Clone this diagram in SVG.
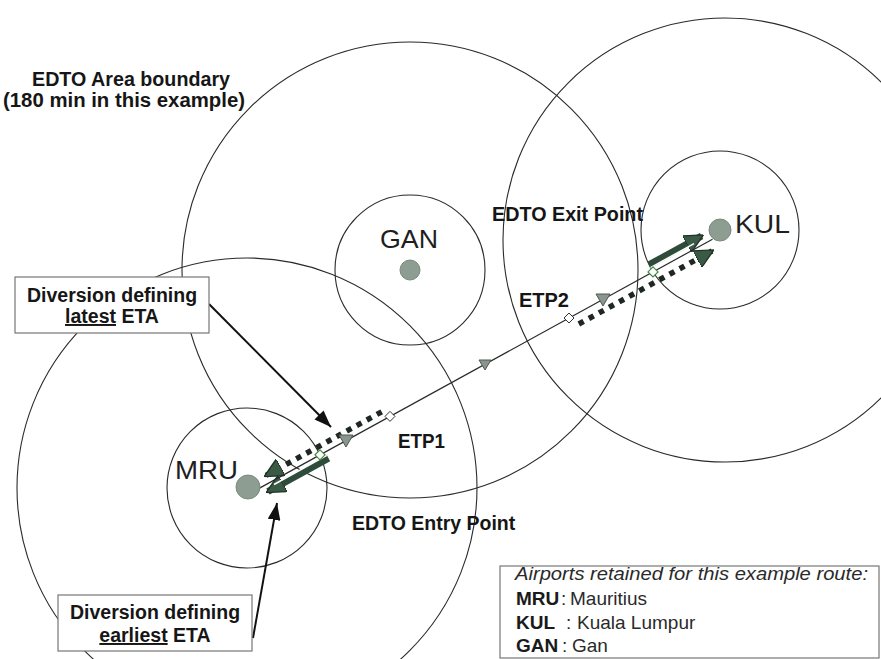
<svg xmlns="http://www.w3.org/2000/svg" width="881" height="659" viewBox="0 0 881 659">
<defs>
<style>
.circ{fill:none;stroke:#2a2a2a;stroke-width:1.1}
.lbl{font-family:"Liberation Sans",Arial,sans-serif;font-weight:bold;font-size:19.5px;fill:#161616}
.apt{font-family:"Liberation Sans",Arial,sans-serif;font-size:26px;fill:#1e1e1e}
.leg{font-family:"Liberation Sans",Arial,sans-serif;font-size:19px;fill:#2a2a2a}
.legb{font-family:"Liberation Sans",Arial,sans-serif;font-size:19px;font-weight:bold;fill:#1a1a1a}
.box{fill:#fff;stroke:#777;stroke-width:1.2}
.dot{fill:#8d9d91;stroke:#7a8a7e;stroke-width:1}
.dia{fill:#fff;stroke:#333;stroke-width:1}
.diag{fill:#fff;stroke:#3f8a45;stroke-width:1.2}
.tri{fill:#8a9590;stroke:#4d5a52;stroke-width:1}
.dotted{fill:none;stroke:#1f2722;stroke-width:5.5;stroke-dasharray:5.5 6}
.solid{fill:none;stroke:#2f4b3a;stroke-width:7}
.shine{fill:none;stroke:#fff;stroke-width:1.5}
.callout{fill:none;stroke:#111;stroke-width:2}
</style>
<marker id="headG" viewBox="0 0 18 18" refX="16" refY="9" markerWidth="19" markerHeight="19" markerUnits="userSpaceOnUse" orient="auto">
<path d="M0,0 L18,9 L0,18 Z" fill="#3a5a46" stroke="#1e3326" stroke-width="1.2"/>
</marker>
<marker id="headK" viewBox="0 0 16 12" refX="16" refY="6" markerWidth="17" markerHeight="13" markerUnits="userSpaceOnUse" orient="auto">
<path d="M0,0 L16,6 L0,12 Z" fill="#111"/>
</marker>
</defs>
<rect width="881" height="659" fill="#fff"/>

<g id="boundaries">
<circle class="circ" cx="410" cy="270" r="228"/>
<circle class="circ" cx="725" cy="240" r="222"/>
<circle class="circ" cx="247" cy="488" r="230"/>
<circle class="circ" cx="410" cy="270" r="75"/>
<circle class="circ" cx="720" cy="230" r="79"/>
<circle class="circ" cx="247" cy="488" r="80"/>
</g>

<g id="connectors">
<line class="dotted" x1="381.7" y1="411.8" x2="266" y2="475.5" marker-end="url(#headG)"/>
<line class="solid" x1="328.5" y1="458.1" x2="268" y2="491.5" marker-end="url(#headG)"/>
<line class="shine" x1="326.8" y1="455.4" x2="274" y2="484.5"/>
<line class="solid" x1="649" y1="264.9" x2="701.6" y2="236" marker-end="url(#headG)"/>
<line class="shine" x1="650.5" y1="267.6" x2="694" y2="243.6"/>
<line class="dotted" x1="578.8" y1="324" x2="712" y2="251" marker-end="url(#headG)"/>
<line id="route" x1="256.8" y1="489.6" x2="712.5" y2="239.2" stroke="#2a2a2a" stroke-width="1.2"/>
<line class="callout" x1="209" y1="304" x2="331" y2="427" marker-end="url(#headK)"/>
<line class="callout" x1="253" y1="638" x2="277" y2="503" marker-end="url(#headK)"/>
</g>

<g id="route-marks">
<polygon class="tri" transform="translate(346,440)" points="-7,-5 7,-5 0,7"/>
<polygon class="tri" transform="translate(485,364)" points="-6,-4 6,-4 0,6"/>
<polygon class="tri" transform="translate(603,299)" points="-7,-5 7,-5 0,7"/>
<polygon class="diag" transform="translate(320,454.8)" points="0,-5 5,0 0,5 -5,0"/>
<polygon class="dia" transform="translate(390,416.4)" points="0,-5 5,0 0,5 -5,0"/>
<polygon class="dia" transform="translate(569,318)" points="0,-5 5,0 0,5 -5,0"/>
<polygon class="diag" transform="translate(653,271.9)" points="0,-5 5,0 0,5 -5,0"/>
</g>

<g id="node-gan">
<circle class="dot" cx="410" cy="270" r="10"/>
<text class="apt" x="380" y="248" textLength="58" lengthAdjust="spacingAndGlyphs">GAN</text>
</g>
<g id="node-mru">
<circle class="dot" cx="248" cy="487" r="12"/>
<text class="apt" x="175" y="479" textLength="63" lengthAdjust="spacingAndGlyphs">MRU</text>
</g>
<g id="node-kul">
<circle class="dot" cx="720" cy="230" r="11"/>
<text class="apt" x="735" y="233" textLength="55" lengthAdjust="spacingAndGlyphs">KUL</text>
</g>

<g id="label-area">
<text class="lbl" x="32" y="86" textLength="198" lengthAdjust="spacingAndGlyphs">EDTO Area boundary</text>
<text class="lbl" x="3" y="107" textLength="242" lengthAdjust="spacingAndGlyphs">(180 min in this example)</text>
</g>
<g id="label-exit"><text class="lbl" x="492" y="221" textLength="151" lengthAdjust="spacingAndGlyphs">EDTO Exit Point</text></g>
<g id="label-entry"><text class="lbl" x="352" y="530">EDTO Entry Point</text></g>
<g id="label-etp1"><text class="lbl" x="398" y="448" textLength="47" lengthAdjust="spacingAndGlyphs">ETP1</text></g>
<g id="label-etp2"><text class="lbl" x="519" y="307" textLength="50" lengthAdjust="spacingAndGlyphs">ETP2</text></g>

<g id="box-latest">
<rect class="box" x="15" y="277" width="194" height="56"/>
<text class="lbl" x="112" y="302" text-anchor="middle">Diversion defining</text>
<text class="lbl" x="112" y="323" text-anchor="middle"><tspan text-decoration="underline">latest</tspan> ETA</text>
</g>
<g id="box-earliest">
<rect class="box" x="58" y="595" width="194" height="56"/>
<text class="lbl" x="155" y="619" text-anchor="middle">Diversion defining</text>
<text class="lbl" x="155" y="642" text-anchor="middle"><tspan text-decoration="underline">earliest</tspan> ETA</text>
</g>

<g id="legend">
<rect class="box" x="500" y="566" width="379" height="92"/>
<text class="leg" x="515" y="580" font-style="italic" textLength="353" lengthAdjust="spacingAndGlyphs">Airports retained for this example route:</text>
<text class="legb" x="516" y="605">MRU</text><text class="leg" x="561" y="605">:</text><text class="leg" x="570" y="605">Mauritius</text>
<text class="legb" x="516" y="629">KUL</text><text class="leg" x="566" y="629">:</text><text class="leg" x="577" y="629">Kuala Lumpur</text>
<text class="legb" x="516" y="652">GAN</text><text class="leg" x="562" y="652">:</text><text class="leg" x="572" y="652">Gan</text>
</g>
</svg>
